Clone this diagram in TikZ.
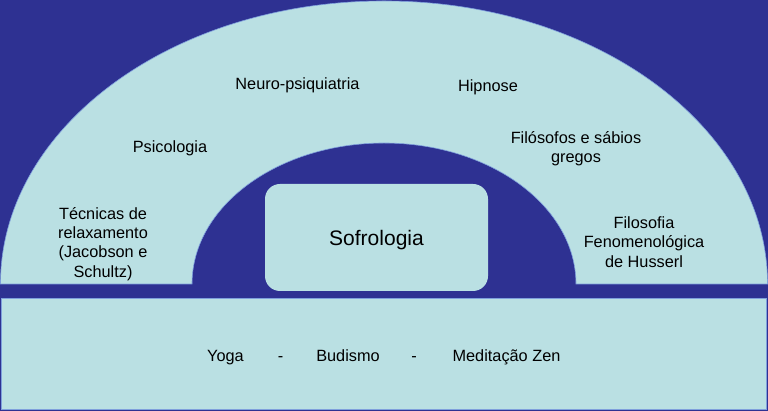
\documentclass[tikz,border=0pt]{standalone}
\usepackage{fontspec}
\setmainfont{Liberation Sans}
\definecolor{fundo}{HTML}{2E3192}
\definecolor{claro}{HTML}{BAE0E3}
\definecolor{borda}{HTML}{7FA0DC}
\tikzset{
  rotulo/.style={align=center, font=\fontsize{16.3}{19.3}\selectfont},
  linha/.style={rotulo, anchor=base},
}
\begin{document}
\begin{tikzpicture}[x=1pt,y=1pt]
    \fill[fundo] (0,0) rectangle (768,411);
    \useasboundingbox (0,0) rectangle (768,411);

    % arco
    \filldraw[fill=claro, draw=borda, line width=0.6pt] (0.5,127) arc[start angle=180, end angle=0, x radius=383.5, y radius=283]
        -- (576,127) arc[start angle=0, end angle=180, x radius=192, y radius=141] -- cycle;
    % base
    \filldraw[fill=claro, draw=borda, line width=0.8pt] (1,2) rectangle (766,113);

    \node[fill=claro, rounded corners=15pt, minimum width=223pt, minimum height=107pt, text depth=0pt,
          font=\fontsize{21}{25}\selectfont] (sofro) at (376.5,173.5) {Sofrologia};

    \node[linha] (neuro) at (297.5,321) {Neuro-psiquiatria};
    \node[linha] (hipno) at (488,319) {Hipnose};
    \node[rotulo] (psico) at (170,262.5) {Psicologia};
    \node[rotulo] (filos) at (576,262) {Filósofos e sábios\\gregos};
    \node[rotulo] (tecni) at (103,167) {Técnicas de\\relaxamento\\(Jacobson e\\Schultz)};
    \node[rotulo] (husse) at (644,169) {Filosofia\\Fenomenológica\\de Husserl};

    \node[linha] (yoga) at (225.5,49) {Yoga};
    \node[linha] (tra1) at (280.5,49) {-};
    \node[linha] (budi) at (348,49) {Budismo};
    \node[linha] (tra2) at (414,49) {-};
    \node[linha] (medit) at (506.5,49) {Meditação Zen};
\end{tikzpicture}
\end{document}
